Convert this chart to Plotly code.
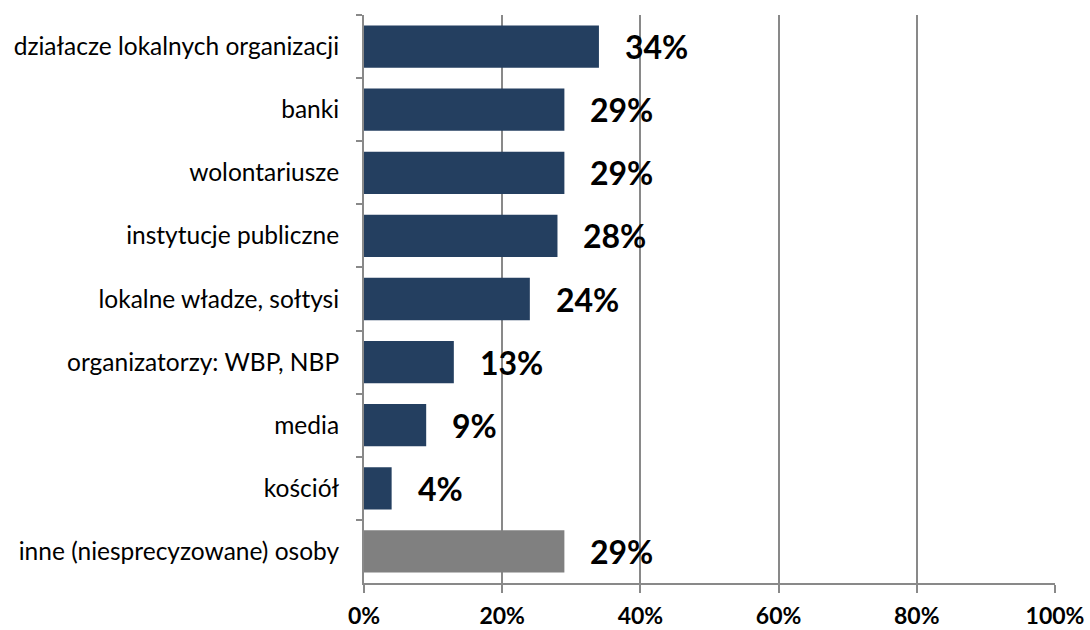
import plotly.graph_objects as go

# Survey categories (top to bottom) and share of answers in percent
categories = [
    "działacze lokalnych organizacji",
    "banki",
    "wolontariusze",
    "instytucje publiczne",
    "lokalne władze, sołtysi",
    "organizatorzy: WBP, NBP",
    "media",
    "kościół",
    "inne (niesprecyzowane) osoby",
]
values = [34, 29, 29, 28, 24, 13, 9, 4, 29]
value_labels = ["34%", "29%", "29%", "28%", "24%", "13%", "9%", "4%", "29%"]

x_ticks = [0, 20, 40, 60, 80, 100]
x_tick_labels = ["0%", "20%", "40%", "60%", "80%", "100%"]

NAVY = "#243F60"
GREY_BAR = "#808080"
AXIS_GREY = "#898989"

bar_colors = [NAVY] * (len(categories) - 1) + [GREY_BAR]

fig = go.Figure(
    go.Bar(
        x=values,
        y=categories,
        orientation="h",
        marker=dict(color=bar_colors, line=dict(width=0)),
        hoverinfo="skip",
    )
)

# Bold value labels to the right of each bar
for cat, val, lab in zip(categories, values, value_labels):
    fig.add_annotation(
        x=val,
        y=cat,
        text=f"<b>{lab}</b>",
        showarrow=False,
        xanchor="left",
        yanchor="middle",
        xshift=24,
        font=dict(family="Lato, Liberation Sans, sans-serif", size=32, color="#000000"),
    )

fig.update_layout(
    width=1090,
    height=630,
    margin=dict(l=364, r=35, t=15, b=47, autoexpand=False),
    paper_bgcolor="white",
    plot_bgcolor="white",
    bargap=0.33,
    showlegend=False,
    font=dict(family="Lato, Liberation Sans, sans-serif", color="#000000"),
)

fig.update_xaxes(
    range=[0, 100],
    tickvals=x_ticks,
    ticktext=[f"<b>{t}</b>" for t in x_tick_labels],
    tickfont=dict(size=23, color="#000000"),
    ticklabelstandoff=3,
    showgrid=True,
    gridcolor=AXIS_GREY,
    gridwidth=2,
    showline=True,
    linecolor=AXIS_GREY,
    linewidth=2,
    ticks="outside",
    ticklen=8,
    tickwidth=2,
    tickcolor=AXIS_GREY,
    zeroline=False,
    fixedrange=True,
)

fig.update_yaxes(
    autorange="reversed",
    tickson="boundaries",
    ticks="outside",
    ticklen=6,
    tickwidth=2,
    tickcolor=AXIS_GREY,
    ticklabelstandoff=18,
    tickfont=dict(size=24.5, color="#000000"),
    showgrid=False,
    showline=True,
    linecolor=AXIS_GREY,
    linewidth=2,
    zeroline=False,
    fixedrange=True,
)

fig.write_html("out.html")
